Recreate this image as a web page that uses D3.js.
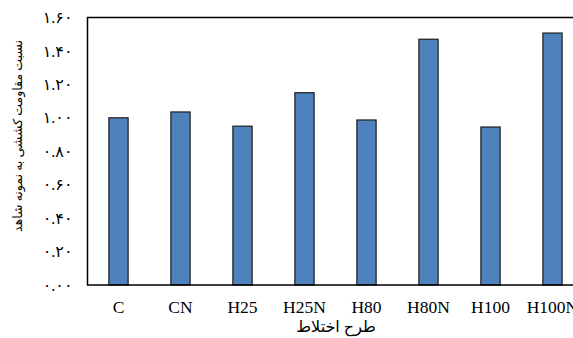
<!DOCTYPE html>
<html>
<head>
<meta charset="utf-8">
<script src="https://cdn.jsdelivr.net/npm/d3@7"></script>
<style>
  body { margin: 0; background: #fff; }
  text { font-family: "Liberation Serif", "DejaVu Sans", serif; }
</style>
</head>
<body>
<script>
// Chart data
const categories = ["C", "CN", "H25", "H25N", "H80", "H80N", "H100", "H100N"];
const ratios = [1.00, 1.035, 0.95, 1.15, 0.987, 1.47, 0.945, 1.507];
const yTicks = [0, 0.2, 0.4, 0.6, 0.8, 1.0, 1.2, 1.4, 1.6];
const yTitle = "نسبت مقاومت کششی به نمونه شاهد";
const xTitle = "طرح اختلاط";

// SVG dimensions
const svgWidth = 573, svgHeight = 338;
const plotLeft = 87.5, plotTop = 17.5, plotBottom = 285, plotRight = 583.5;

const svg = d3.select("body")
    .append("svg")
    .attr("width", svgWidth)
    .attr("height", svgHeight);

// Scales
let x = d3.scaleBand()
    .domain(categories)
    .range([plotLeft, plotRight])
    .paddingInner(0.69)
    .paddingOuter(0.345);
let y = d3.scaleLinear()
    .domain([0, 1.6])
    .range([plotBottom, plotTop]);

// Persian digits for tick labels
const faDigits = "۰۱۲۳۴۵۶۷۸۹";
const toFa = (s) => s.replace(/[0-9]/g, (c) => faDigits[+c]);

// Y axis labels only
svg.append("g")
    .attr("transform", `translate(${plotLeft}, 0)`)
    .call(d3.axisLeft(y).tickValues(yTicks).tickSize(0).tickPadding(15)
        .tickFormat((d) => toFa(d3.format(".2f")(d))))
    .call((g) => g.select(".domain").remove())
    .selectAll("text")
    .attr("fill", "#000")
    .style("font-size", "16px")
    .style("letter-spacing", "5px")
    .style("font-family", "\"Liberation Serif\", \"DejaVu Sans\", serif");

// Bars
svg.append("g")
    .selectAll("rect")
    .data(categories)
    .join("rect")
    .attr("x", (d) => x(d))
    .attr("y", (d, i) => y(ratios[i]))
    .attr("width", x.bandwidth())
    .attr("height", (d, i) => plotBottom - y(ratios[i]))
    .attr("fill", "#4f81bd")
    .attr("stroke", "#1c1c1c")
    .attr("stroke-width", 1.2);

// Plot frame
svg.append("rect")
    .attr("x", plotLeft)
    .attr("y", plotTop)
    .attr("width", plotRight - plotLeft)
    .attr("height", plotBottom - plotTop)
    .attr("fill", "none")
    .attr("stroke", "#000")
    .attr("stroke-width", 1.5);

// X axis labels
svg.append("g")
    .attr("transform", `translate(0, ${plotBottom})`)
    .call(d3.axisBottom(x).tickSize(0).tickPadding(16))
    .call((g) => g.select(".domain").remove())
    .selectAll("text")
    .attr("fill", "#000")
    .style("font-size", "17.5px")
    .style("font-family", "\"Liberation Serif\", serif");

// Axis titles
svg.append("text")
    .attr("x", 336)
    .attr("y", 332)
    .attr("text-anchor", "middle")
    .style("font-size", "16px")
    .attr("direction", "rtl")
    .text(xTitle);

svg.append("text")
    .attr("transform", "translate(22, 136) rotate(-90)")
    .attr("text-anchor", "middle")
    .style("font-size", "12.5px")
    .attr("direction", "rtl")
    .text(yTitle);
</script>
</body>
</html>
